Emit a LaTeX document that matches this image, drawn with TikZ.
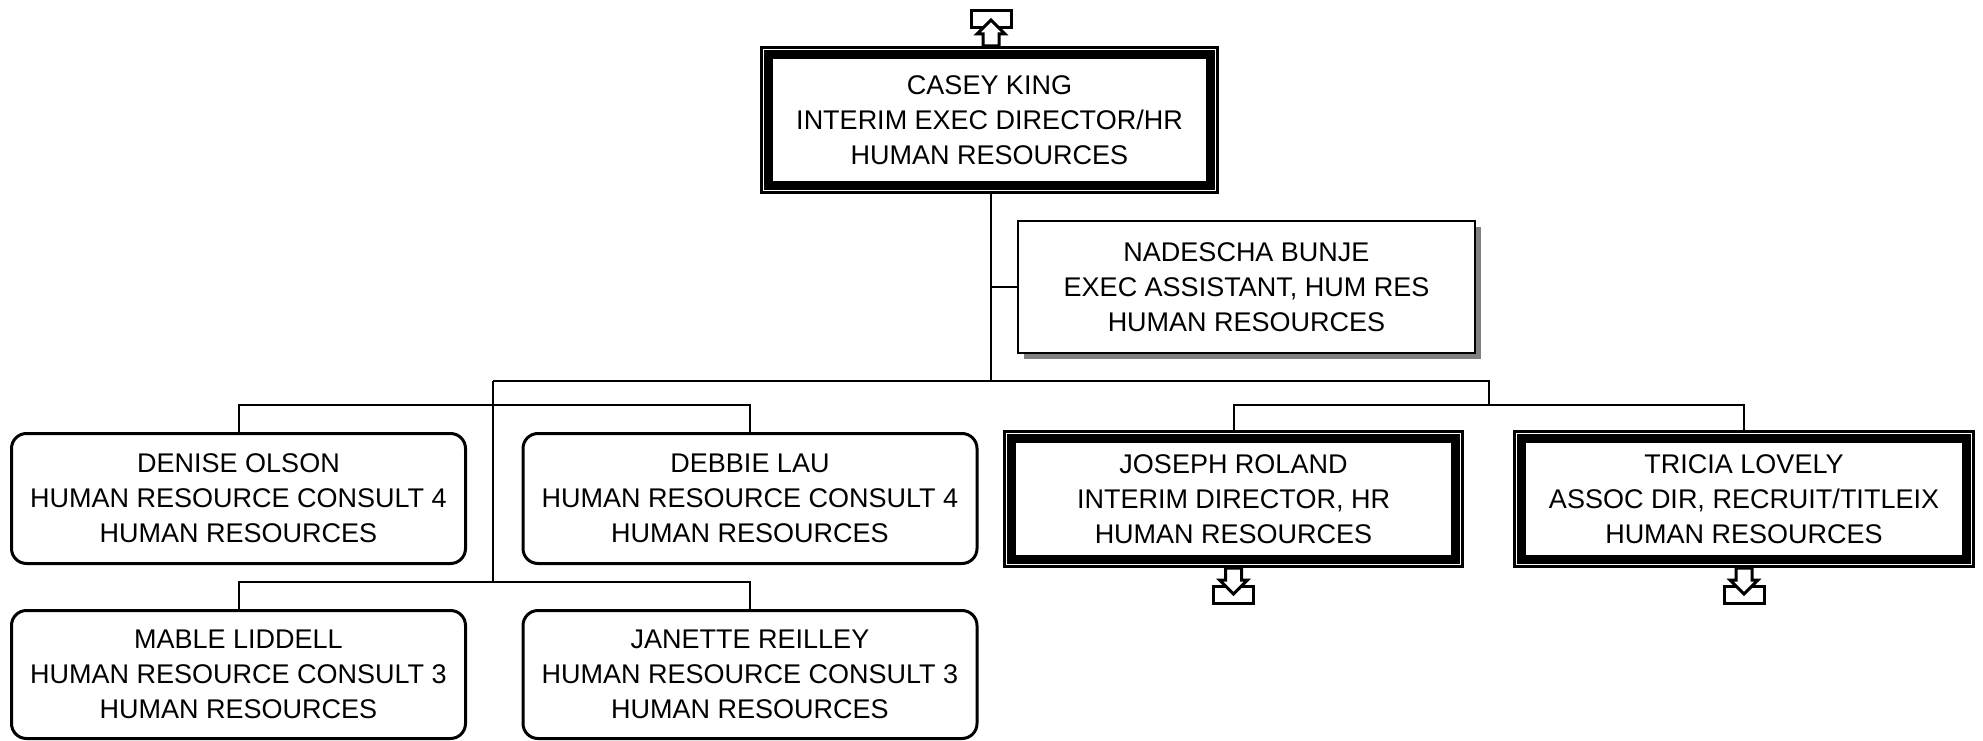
\documentclass[tikz,border=0pt]{standalone}
\usepackage{fontspec}
\setmainfont{Liberation Sans}
\usetikzlibrary{shadows}
\definecolor{shadowgray}{RGB}{128,128,128}
\begin{document}
\begin{tikzpicture}[x=1pt,y=-1pt,
  txt/.style={align=center, font=\fontsize{27}{35}\selectfont, inner sep=0pt},
  dbox/.style={txt, draw, line width=3pt, minimum width=456pt, minimum height=145pt},
  rbox/.style={txt, draw, line width=3pt, rounded corners=15pt, minimum width=454pt, minimum height=130pt},
  sbox/.style={txt, draw, fill=white, line width=2.5pt, minimum width=457pt, minimum height=132pt,
    drop shadow={shadow xshift=6pt, shadow yshift=-6pt, fill=shadowgray, opacity=1}},
  conn/.style={line width=2pt},
  band/.style={line width=9pt},
  arr/.style={draw, fill=white, line width=3pt, line join=miter},
]
\fill[white] (0,0) rectangle (1983,741);
\useasboundingbox (0,0) rectangle (1983,741);

% nodes
\node[dbox] (casey) at (989.5,120) {CASEY KING\\INTERIM EXEC DIRECTOR/HR\\HUMAN RESOURCES};
\draw[band] ([xshift=8.5pt,yshift=-8.5pt]casey.north west) rectangle ([xshift=-8.5pt,yshift=8.5pt]casey.south east);

\node[sbox] (nadescha) at (1246.5,287) {NADESCHA BUNJE\\EXEC ASSISTANT, HUM RES\\HUMAN RESOURCES};

\node[rbox] (denise) at (238.5,498.5) {DENISE OLSON\\HUMAN RESOURCE CONSULT 4\\HUMAN RESOURCES};
\node[rbox] (debbie) at (750,498.5) {DEBBIE LAU\\HUMAN RESOURCE CONSULT 4\\HUMAN RESOURCES};
\node[rbox, minimum height=128pt] (mable) at (238.5,674.5) {MABLE LIDDELL\\HUMAN RESOURCE CONSULT 3\\HUMAN RESOURCES};
\node[rbox, minimum height=128pt] (janette) at (750,674.5) {JANETTE REILLEY\\HUMAN RESOURCE CONSULT 3\\HUMAN RESOURCES};

\node[dbox, minimum width=458pt, minimum height=135pt] (joseph) at (1233.5,499) {JOSEPH ROLAND\\INTERIM DIRECTOR, HR\\HUMAN RESOURCES};
\draw[band] ([xshift=8.5pt,yshift=-8.5pt]joseph.north west) rectangle ([xshift=-8.5pt,yshift=8.5pt]joseph.south east);
\node[dbox, minimum width=459pt, minimum height=135pt] (tricia) at (1744,499) {TRICIA LOVELY\\ASSOC DIR, RECRUIT/TITLEIX\\HUMAN RESOURCES};
\draw[band] ([xshift=8.5pt,yshift=-8.5pt]tricia.north west) rectangle ([xshift=-8.5pt,yshift=8.5pt]tricia.south east);

% junctions
\coordinate (hub) at (991,381);
\coordinate (lhub) at (493,381);
\coordinate (rhub) at (1489,381);
\coordinate (lbar1) at (493,405);
\coordinate (lbar2) at (493,582);
\coordinate (rbar) at (1489,405);

% connectors
\draw[conn] (hub |- casey.south) -- (hub);
\draw[conn] (hub |- nadescha.west) -- (nadescha.west);
\draw[conn] (lhub) -- (rhub) -- (rbar);
\draw[conn] (lhub) -- (lbar2);
\draw[conn] (denise.north) -- (denise.north |- lbar1) -- (debbie.north |- lbar1) -- (debbie.north);
\draw[conn] (mable.north) -- (mable.north |- lbar2) -- (janette.north |- lbar2) -- (janette.north);
\draw[conn] (joseph.north) -- (joseph.north |- rbar) -- (tricia.north |- rbar) -- (tricia.north);

% off-page arrows
\coordinate (ua) at (hub |- casey.north);
\begin{scope}[shift={(ua)}]
  \draw[arr] (-20,-35) rectangle (20,-18);
  \draw[arr] (-8,0) -- (-8,-12) -- (-14,-12) -- (0,-26) -- (14,-12) -- (8,-12) -- (8,0) -- cycle;
\end{scope}
\begin{scope}[shift={(joseph.south)}]
  \draw[arr] (-20,18) rectangle (20,35);
  \draw[arr] (-8,0) -- (-8,12) -- (-14,12) -- (0,26) -- (14,12) -- (8,12) -- (8,0) -- cycle;
\end{scope}
\begin{scope}[shift={(tricia.south)}]
  \draw[arr] (-20,18) rectangle (20,35);
  \draw[arr] (-8,0) -- (-8,12) -- (-14,12) -- (0,26) -- (14,12) -- (8,12) -- (8,0) -- cycle;
\end{scope}
\end{tikzpicture}
\end{document}
